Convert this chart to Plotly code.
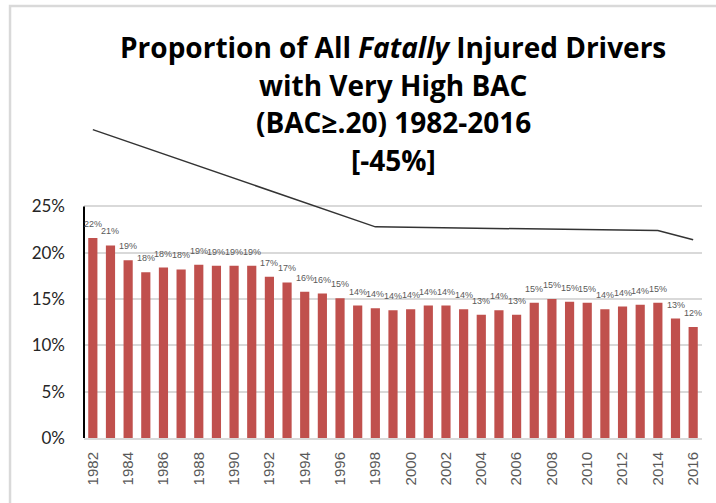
import plotly.graph_objects as go

years = list(range(1982, 2017))
pct_high_bac = [
    21.6, 20.8, 19.2, 17.9, 18.4, 18.2, 18.7, 18.6, 18.6, 18.6,
    17.4, 16.8, 15.8, 15.6, 15.1, 14.3, 14.0, 13.8, 13.9, 14.3,
    14.3, 13.9, 13.3, 13.8, 13.3, 14.6, 15.0, 14.7, 14.6, 13.9,
    14.2, 14.4, 14.6, 12.9, 12.0,
]
labels = ["22%", "21%", "19%", "18%", "18%", "18%", "19%", "19%", "19%", "19%",
          "17%", "17%", "16%", "16%", "15%", "14%", "14%", "14%", "14%", "14%",
          "14%", "14%", "13%", "14%", "13%", "15%", "15%", "15%", "15%", "14%",
          "14%", "14%", "15%", "13%", "12%"]

trend_years = [1982, 1998, 2014, 2016]
trend_vals = [33.3, 22.8, 22.4, 21.4]

y_ticks = [0, 5, 10, 15, 20, 25]
y_ticktext = ["0%", "5%", "10%", "15%", "20%", "25%"]
x_ticks = list(range(1982, 2017, 2))

title_lines = [
    "Proportion of All <i>Fatally</i> Injured Drivers",
    "with Very High BAC",
    "(BAC≥.20) 1982-2016",
    "[-45%]",
]
title_y = [1.157, 1.044, 0.935, 0.822]

fig = go.Figure()
fig.add_trace(go.Bar(
    x=years, y=pct_high_bac, width=0.52,
    marker=dict(color="#C0504D", line=dict(width=0)),
    hoverinfo="x+y",
))
fig.add_trace(go.Scatter(
    x=trend_years, y=trend_vals, mode="lines",
    line=dict(color="#333333", width=1.5),
    hoverinfo="skip",
))

for yr, v, lab in zip(years, pct_high_bac, labels):
    fig.add_annotation(x=yr, y=v, text=lab, showarrow=False, yanchor="middle", yshift=14,
                       font=dict(family="Liberation Sans, Arial", size=9, color="#595959"))

for txt, ty in zip(title_lines, title_y):
    fig.add_annotation(x=0.5, y=ty, xref="paper", yref="paper", text=txt, showarrow=False,
                       yanchor="middle",
                       font=dict(family="Open Sans", size=28, color="#000000", weight="bold"))

# chart frame and the short black value axis
fig.add_shape(type="rect", xref="paper", yref="paper", x0=-0.1197, x1=1.05, y0=-0.25, y1=1.278,
              line=dict(color="#d9d9d9", width=2.5), layer="below")
fig.add_shape(type="line", xref="paper", yref="y", x0=0, x1=0, y0=0, y1=25,
              line=dict(color="#000000", width=2))

fig.update_layout(
    width=716, height=503,
    margin=dict(l=84, r=14, t=100, b=65),
    plot_bgcolor="#FFFFFF", paper_bgcolor="#FFFFFF",
    showlegend=False,
    font=dict(family="Open Sans", color="#404040"),
    xaxis=dict(
        range=[1981.5, 2016.5], tickvals=x_ticks, tickangle=-90,
        showgrid=False, showline=True, linecolor="#d9d9d9", linewidth=2,
        ticks="", ticklabelstandoff=6,
        tickfont=dict(family="Liberation Sans, Arial", size=15, color="#595959"),
    ),
    yaxis=dict(
        range=[0, 36.5], tickvals=y_ticks, ticktext=y_ticktext,
        showgrid=True, gridcolor="#d9d9d9", gridwidth=1.5,
        zeroline=False, showline=False, ticks="", ticklabelstandoff=18,
        tickfont=dict(family="Lato, Open Sans", size=17, color="#262626"),
    ),
)

fig.write_html("out.html", config={"displayModeBar": False},
               post_script="document.body.style.margin='0';")
